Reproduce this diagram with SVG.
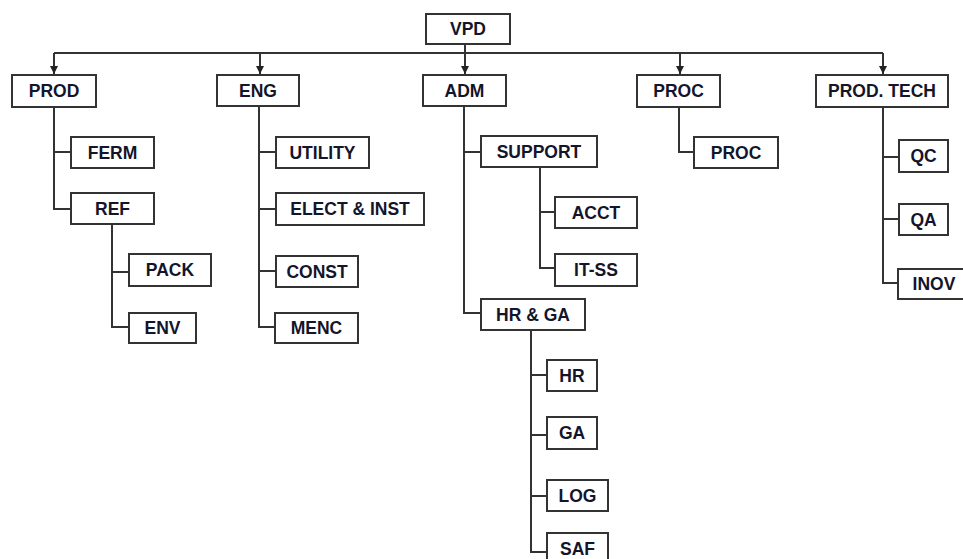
<svg xmlns="http://www.w3.org/2000/svg" width="963" height="559" viewBox="0 0 963 559">
<style>
.box{fill:#fff;stroke:#333;stroke-width:2}
.t{font-family:"Liberation Sans",Arial,sans-serif;font-weight:bold;font-size:17.5px;fill:#14142a;text-anchor:middle}
.ln{fill:none;stroke:#333;stroke-width:2}
</style>
<defs>
<marker id="arr" viewBox="0 0 10 10" refX="10" refY="5" markerWidth="8" markerHeight="8" orient="auto" markerUnits="userSpaceOnUse">
<path d="M0,0 L10,5 L0,10 z" fill="#222"/>
</marker>
</defs>
<rect width="963" height="559" fill="#fff"/>
<g id="connectors">
<path class="ln" d="M54,53 H883"/>
<path class="ln" d="M54,53 V74" marker-end="url(#arr)"/>
<path class="ln" d="M260,53 V74" marker-end="url(#arr)"/>
<path class="ln" d="M465,44 V74" marker-end="url(#arr)"/>
<path class="ln" d="M680,53 V74" marker-end="url(#arr)"/>
<path class="ln" d="M883,53 V74" marker-end="url(#arr)"/>
<path class="ln" d="M54,107 V209 H71 M54,152 H71"/>
<path class="ln" d="M112,224 V327 H129 M112,272 H129"/>
<path class="ln" d="M259,106 V327 H275 M259,152 H276 M259,209 H276 M259,271 H276"/>
<path class="ln" d="M464,106 V313 H481 M464,152 H481"/>
<path class="ln" d="M540,167 V268 H555 M540,212 H555"/>
<path class="ln" d="M531,330 V552 H547 M531,375 H547 M531,435 H547 M531,496 H547"/>
<path class="ln" d="M679,107 V152 H694"/>
<path class="ln" d="M883,107 V283 H898 M883,157 H899 M883,219 H899"/>
</g>
<g id="n-vpd"><rect class="box" x="426" y="14" width="84" height="30"/><text class="t" x="468" y="35">VPD</text></g>
<g id="n-prod"><rect class="box" x="12" y="75" width="84" height="32"/><text class="t" x="54" y="97">PROD</text></g>
<g id="n-eng"><rect class="box" x="217" y="75" width="82" height="31"/><text class="t" x="258" y="97">ENG</text></g>
<g id="n-adm"><rect class="box" x="423" y="75" width="83" height="31"/><text class="t" x="464.5" y="97">ADM</text></g>
<g id="n-proc"><rect class="box" x="637" y="75" width="83" height="32"/><text class="t" x="678.5" y="97">PROC</text></g>
<g id="n-prodtech"><rect class="box" x="816" y="75" width="132" height="32"/><text class="t" x="882" y="97">PROD. TECH</text></g>
<g id="n-ferm"><rect class="box" x="71" y="137" width="83" height="31"/><text class="t" x="112.5" y="158.5">FERM</text></g>
<g id="n-ref"><rect class="box" x="71" y="193" width="83" height="31"/><text class="t" x="112.5" y="214.5">REF</text></g>
<g id="n-pack"><rect class="box" x="129" y="254" width="82" height="32"/><text class="t" x="170" y="276">PACK</text></g>
<g id="n-env"><rect class="box" x="129" y="313" width="67" height="30"/><text class="t" x="162.5" y="334">ENV</text></g>
<g id="n-utility"><rect class="box" x="276" y="137" width="93" height="31"/><text class="t" x="322.5" y="158.5">UTILITY</text></g>
<g id="n-elect"><rect class="box" x="276" y="193" width="148" height="32"/><text class="t" x="350" y="215">ELECT &amp; INST</text></g>
<g id="n-const"><rect class="box" x="276" y="256" width="82" height="31"/><text class="t" x="317" y="277.5">CONST</text></g>
<g id="n-menc"><rect class="box" x="275" y="313" width="83" height="30"/><text class="t" x="316.5" y="334">MENC</text></g>
<g id="n-support"><rect class="box" x="481" y="136" width="116" height="31"/><text class="t" x="539" y="157.5">SUPPORT</text></g>
<g id="n-acct"><rect class="box" x="555" y="197" width="82" height="31"/><text class="t" x="596" y="218.5">ACCT</text></g>
<g id="n-itss"><rect class="box" x="555" y="254" width="82" height="32"/><text class="t" x="596" y="276">IT-SS</text></g>
<g id="n-hrga"><rect class="box" x="481" y="299" width="104" height="31"/><text class="t" x="533" y="320.5">HR &amp; GA</text></g>
<g id="n-hr"><rect class="box" x="547" y="360" width="50" height="31"/><text class="t" x="572" y="381.5">HR</text></g>
<g id="n-ga"><rect class="box" x="547" y="417" width="50" height="32"/><text class="t" x="572" y="439">GA</text></g>
<g id="n-log"><rect class="box" x="547" y="480" width="61" height="31"/><text class="t" x="577.5" y="501.5">LOG</text></g>
<g id="n-saf"><rect class="box" x="547" y="533" width="61" height="32"/><text class="t" x="577.5" y="555">SAF</text></g>
<g id="n-proc2"><rect class="box" x="694" y="137" width="84" height="31"/><text class="t" x="736" y="158.5">PROC</text></g>
<g id="n-qc"><rect class="box" x="899" y="140" width="49" height="32"/><text class="t" x="923.5" y="162">QC</text></g>
<g id="n-qa"><rect class="box" x="899" y="204" width="49" height="31"/><text class="t" x="923.5" y="225.5">QA</text></g>
<g id="n-inov"><rect class="box" x="898" y="269" width="72" height="30"/><text class="t" x="934" y="290">INOV</text></g>
</svg>
